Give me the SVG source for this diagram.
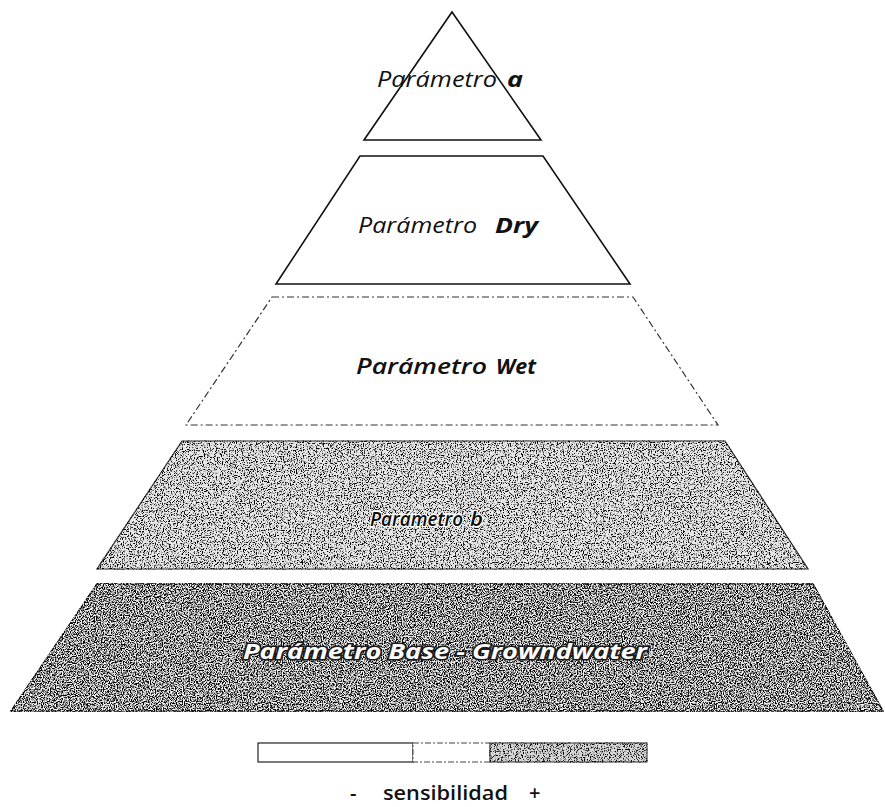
<svg xmlns="http://www.w3.org/2000/svg" width="885" height="807" viewBox="0 0 885 807">
  <style>
    .lbl { font-family: "Open Sans", "Liberation Sans", sans-serif; font-style: italic; font-size: 22px; fill: #111; }
    .strong { font-weight: 700; }
    .solid { fill: #fff; stroke: #111; stroke-width: 1.6; stroke-linejoin: miter; }
    .dashed { fill: #fff; stroke: #333; stroke-width: 1.2; stroke-dasharray: 7 3 2 3; }
    .halo { font-size: 20px; font-weight: 600; fill: #0d0d0d; stroke: #fff; stroke-width: 2.5; paint-order: stroke; }
    .outlined { font-size: 21px; fill: #fff; stroke: #1a1a1a; stroke-width: 3; paint-order: stroke; }
    .legend-txt { font-family: "Open Sans", "Liberation Sans", sans-serif; font-weight: 600; font-size: 20px; fill: #111; }
  </style>
  <defs>
    <!-- speckled halftone look for the shaded tiers -->
    <filter id="grainLight" x="-0.02" y="-0.02" width="1.04" height="1.04" color-interpolation-filters="sRGB">
      <feTurbulence type="fractalNoise" baseFrequency="0.85" numOctaves="2" seed="4" result="noise"/>
      <feColorMatrix in="noise" type="matrix" values="0 0 0 0 0  0 0 0 0 0  0 0 0 0 0  -6 0 0 0 2.95" result="dark"/>
      <feComposite in="dark" in2="SourceGraphic" operator="in" result="darkIn"/>
      <feMerge><feMergeNode in="SourceGraphic"/><feMergeNode in="darkIn"/></feMerge>
    </filter>
    <filter id="grainDark" x="-0.02" y="-0.02" width="1.04" height="1.04" color-interpolation-filters="sRGB">
      <feTurbulence type="fractalNoise" baseFrequency="0.85" numOctaves="2" seed="9" result="noise"/>
      <feColorMatrix in="noise" type="matrix" values="0 0 0 0 0  0 0 0 0 0  0 0 0 0 0  -6 0 0 0 3.2" result="dark"/>
      <feColorMatrix in="noise" type="matrix" values="0 0 0 0 1  0 0 0 0 1  0 0 0 0 1  6 0 0 0 -3.05" result="light"/>
      <feComposite in="dark" in2="SourceGraphic" operator="in" result="darkIn"/>
      <feComposite in="light" in2="SourceGraphic" operator="in" result="lightIn"/>
      <feMerge><feMergeNode in="SourceGraphic"/><feMergeNode in="darkIn"/><feMergeNode in="lightIn"/></feMerge>
    </filter>
  </defs>

  <rect width="885" height="807" fill="#fff"/>

  <!-- top tier: triangle -->
  <g id="tier-a">
    <polygon class="solid" points="452,12 541,140 364,140"/>
    <text class="lbl" x="377" y="87" textLength="120" lengthAdjust="spacingAndGlyphs">Parámetro</text>
    <text class="lbl strong" x="507" y="87" textLength="16" lengthAdjust="spacingAndGlyphs">a</text>
  </g>

  <!-- Dry tier -->
  <g id="tier-dry">
    <polygon class="solid" points="360,156 543,156 630,284 276,284"/>
    <text class="lbl" x="358" y="233" textLength="119" lengthAdjust="spacingAndGlyphs">Parámetro</text>
    <text class="lbl strong" x="495" y="233" textLength="43" lengthAdjust="spacingAndGlyphs">Dry</text>
  </g>

  <!-- Wet tier -->
  <g id="tier-wet">
    <polygon class="dashed" points="272,297 633,297 718,425 186,425"/>
    <text class="lbl" x="356" y="374" font-weight="600" textLength="131" lengthAdjust="spacingAndGlyphs">Parámetro</text>
    <text class="lbl strong" x="496" y="374" textLength="40" lengthAdjust="spacingAndGlyphs">Wet</text>
  </g>

  <!-- b tier -->
  <g id="tier-b">
    <polygon points="182,441 725,441 808,569 97,569" fill="#e8e8e8" stroke="#333" stroke-width="1.2" filter="url(#grainLight)"/>
    <text class="lbl halo" x="370" y="526" textLength="93" lengthAdjust="spacingAndGlyphs">Parámetro</text>
    <text class="lbl halo strong" x="470" y="526" textLength="13" lengthAdjust="spacingAndGlyphs">b</text>
  </g>

  <!-- base tier -->
  <g id="tier-base">
    <polygon points="97,584 813,584 883,711 11,711" fill="#b8b8b8" stroke="#222" stroke-width="1.4" filter="url(#grainDark)"/>
    <text class="lbl strong outlined" x="243" y="659" textLength="404" lengthAdjust="spacingAndGlyphs">Parámetro Base - Growndwater</text>
  </g>

  <!-- sensitivity scale -->
  <g id="legend">
    <rect x="258" y="743" width="155" height="19" fill="#fff" stroke="#222" stroke-width="1.2"/>
    <rect x="413" y="743" width="77" height="19" fill="#fff" stroke="#444" stroke-width="1" stroke-dasharray="6 2 2 2"/>
    <rect x="490" y="743" width="157" height="19" fill="#d8d8d8" stroke="#333" stroke-width="1" filter="url(#grainLight)"/>
    <text class="legend-txt" x="350" y="800">-</text>
    <text class="legend-txt" x="383" y="800" textLength="125" lengthAdjust="spacingAndGlyphs">sensibilidad</text>
    <text class="legend-txt" x="529" y="800">+</text>
  </g>
</svg>
